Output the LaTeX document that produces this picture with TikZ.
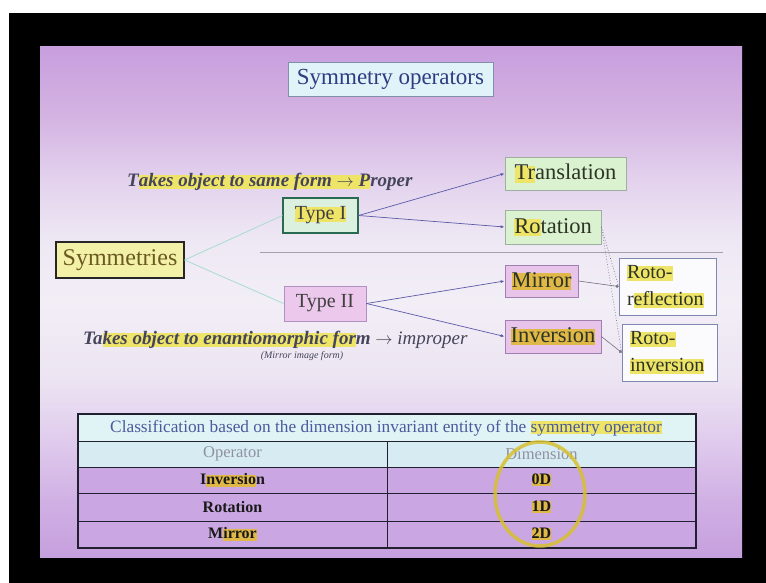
\documentclass[tikz,border=0pt]{standalone}
\usepackage{fontspec}
\setmainfont{Liberation Serif}
\usetikzlibrary{arrows.meta,shapes.geometric}
\definecolor{bgA}{HTML}{C6A0DE}
\definecolor{bgB}{HTML}{D0B0E4}
\definecolor{bgC}{HTML}{E2D0EE}
\definecolor{bgD}{HTML}{ECE4F2}
\definecolor{bgE}{HTML}{F2EEF6}
\definecolor{bgF}{HTML}{EEE8F4}
\definecolor{bgG}{HTML}{E4D4EE}
\definecolor{bgH}{HTML}{D4B4E2}
\definecolor{bgI}{HTML}{C89EDE}
\definecolor{titlefill}{HTML}{DFF3F8}
\definecolor{titledraw}{HTML}{8090A8}
\definecolor{titletext}{HTML}{2E3C80}
\definecolor{symfill}{HTML}{F3F0A8}
\definecolor{symtext}{HTML}{6A5A20}
\definecolor{tonefill}{HTML}{DCF0E0}
\definecolor{tonedraw}{HTML}{2A6A50}
\definecolor{ttwofill}{HTML}{ECC8EC}
\definecolor{ttwodraw}{HTML}{B090C0}
\definecolor{greenfill}{HTML}{DAF2D0}
\definecolor{greendraw}{HTML}{A0B0A0}
\definecolor{pinkfill}{HTML}{E8C4EA}
\definecolor{pinkdraw}{HTML}{A080B0}
\definecolor{rotofill}{HTML}{FBFAFC}
\definecolor{rotodraw}{HTML}{8088B0}
\definecolor{boxtext}{HTML}{2E3424}
\definecolor{italtext}{HTML}{44445A}
\definecolor{opline}{HTML}{5A5AA8}
\definecolor{symline}{HTML}{A8DCD0}
\definecolor{greyline}{HTML}{707080}
\definecolor{hl}{HTML}{EEE468}
\definecolor{hlo}{HTML}{E0B848}
\definecolor{hlring}{HTML}{D8C030}
\definecolor{tabhead}{HTML}{E0F4F6}
\definecolor{tabsub}{HTML}{D6ECF2}
\definecolor{tabrow}{HTML}{CAA6E2}
\definecolor{tabline}{HTML}{202030}
\definecolor{tabheadtext}{HTML}{4A5A9C}
\definecolor{tabsubtext}{HTML}{9090A0}
\pgfdeclareverticalshading{slidebg}{100bp}{color(0bp)=(bgA); color(25bp)=(bgA); color(30.5bp)=(bgB); color(37.5bp)=(bgC); color(42.5bp)=(bgD); color(50bp)=(bgE); color(56bp)=(bgF); color(61.5bp)=(bgG); color(68bp)=(bgH); color(75bp)=(bgI); color(100bp)=(bgI)}
\newsavebox\hlbox
\newcommand\hlt[2][hl]{\leavevmode\sbox\hlbox{#2}\rlap{\color{#1}\rule[-0.12em]{\wd\hlbox}{0.74em}}\usebox\hlbox}
\begin{document}
\begin{tikzpicture}[x=1pt,y=-1pt,
  box/.style={draw, inner sep=0pt, align=center, line width=0.8pt},
  greenbox/.style={box, fill=greenfill, draw=greendraw, text=boxtext, font=\fontsize{22.5}{26}\selectfont},
  pinkbox/.style={box, fill=pinkfill, draw=pinkdraw, text=boxtext, font=\fontsize{22.5}{26}\selectfont},
  rotobox/.style={box, fill=rotofill, draw=rotodraw, text=boxtext, align=left, inner xsep=8pt, text width=81pt, minimum height=57, font=\fontsize{20}{27}\selectfont},
  ital/.style={inner sep=0pt, text=italtext, font=\fontsize{19}{22}\selectfont\itshape},
  oparrow/.style={draw=opline, line width=0.7pt, -{Latex[length=4pt,width=3pt]}},
  symconn/.style={draw=symline, line width=0.8pt},
  rotoarrow/.style={draw=greyline, line width=0.6pt, -{Circle[length=3pt]}},
  rotodot/.style={draw=greyline, line width=0.7pt, dotted},
  tabtext/.style={inner sep=0pt},
  datatext/.style={tabtext, text=black!90, font=\fontsize{16}{18}\selectfont\bfseries},
  subtext/.style={tabtext, text=tabsubtext, font=\fontsize{16.5}{18}\selectfont},
]
\useasboundingbox (0,0) rectangle (766,583);
\fill[white] (0,0) rectangle (766,583);
\fill[black] (9,13) rectangle (766,583);
\shade[shading=slidebg] (40,47) rectangle (742,557);

% title
\node[box, fill=titlefill, draw=titledraw, text=titletext, minimum width=205, minimum height=34, font=\fontsize{23}{26}\selectfont] (title) at (390.5,79) {Symmetry operators};

% divider line
\coordinate (divL) at (260,252);
\coordinate (divR) at (723,252);
\draw[draw=black!30!bgD, line width=0.6pt] (divL) -- (divR);

% main nodes
\node[box, fill=symfill, draw=black!85, line width=1.2pt, text=symtext, minimum width=128, minimum height=36, font=\fontsize{24}{26}\selectfont] (sym) at (120,260) {Symmetries};
\node[box, fill=tonefill, draw=tonedraw, line width=1.2pt, text=black!75, minimum width=75, minimum height=35, font=\fontsize{20}{24}\selectfont] (t1) at (320.5,215.5) {\hlt{Type I}};
\node[box, fill=ttwofill, draw=ttwodraw, text=black!75, minimum width=82, minimum height=35, font=\fontsize{20}{24}\selectfont] (t2) at (325,303.5) {Type II};

\node[greenbox, minimum width=121, minimum height=33] (trans) at (565.5,173.5) {\hlt{Tr}anslation};
\node[greenbox, minimum width=96, minimum height=34] (rot) at (553,227) {\hlt{Ro}tation};
\node[pinkbox, minimum width=73, minimum height=32] (mir) at (541.5,281) {\hlt[hlo]{Mirror}};
\node[pinkbox, minimum width=96, minimum height=33] (inv) at (553,336.5) {\hlt[hlo]{Inversion}};
\node[rotobox, minimum width=97] (rr) at (667.5,286.5) {\hlt{Roto-}\\r\hlt{eflection}};
\node[rotobox, text width=79pt, minimum width=95] (ri) at (669.5,352.5) {\hlt{Roto-}\\ \hlt{inversion}};

% italic descriptions
\node[ital, anchor=west] (proper) at (127,182) {\bfseries T\hlt{akes object to same form $\rightarrow$ P}roper};
\node[ital, anchor=west] (improper) at (83,340) {{\bfseries Ta\hlt{kes object to enantiomorphic for}m} $\rightarrow$ improper};
\node[ital, font=\fontsize{10}{12}\selectfont\itshape] (mif) at (302,356) {(Mirror image form)};

% connectors
\draw[symconn] (sym.east) -- (t1.west);
\draw[symconn] (sym.east) -- (t2.west);
\draw[oparrow] (t1.east) -- (trans.west);
\draw[oparrow] (t1.east) -- (rot.west);
\draw[oparrow] (t2.east) -- (mir.west);
\draw[oparrow] (t2.east) -- (inv.west);
\draw[rotodot] (rot.east) -- (rr.west);
\draw[rotodot] (rot.east) -- (ri.west);
\draw[rotoarrow] (mir.east) -- (rr.west);
\draw[rotoarrow] (inv.east) -- (ri.west);

% table
\fill[tabhead] (78,414) rectangle (696,441);
\fill[tabsub] (78,441) rectangle (696,467);
\fill[tabrow] (78,467) rectangle (696,548);
\draw[tabline, line width=0.9pt] (78,441) -- (696,441);
\draw[tabline, line width=0.9pt] (78,467) -- (696,467);
\draw[tabline, line width=0.9pt] (78,493) -- (696,493);
\draw[tabline, line width=0.9pt] (78,521) -- (696,521);
\draw[tabline, line width=0.9pt] (387,441) -- (387,548);
\draw[tabline, line width=1.3pt] (78,414) rectangle (696,548);

\node[tabtext, text=tabheadtext, font=\fontsize{17.3}{19}\selectfont] (thead) at (386,428) {Classification based on the dimension invariant entity of the \hlt{symmetry operator}};
\node[subtext] (hop) at (232.5,454) {Operator};
\node[subtext] (hdim) at (541.5,454) {Dimension};
\node[datatext] (rinv) at (232.5,480) {I\hlt[hlo]{nversio}n};
\node[datatext] (rrot) at (232.5,507) {Rotation};
\node[datatext] (rmir) at (232.5,534) {M\hlt[hlo]{irror}};
\node[datatext] (d0) at (541.5,480) {\hlt[hlo]{0D}};
\node[datatext] (d1) at (541.5,507) {\hlt[hlo]{1D}};
\node[datatext] (d2) at (541.5,534) {\hlt[hlo]{2D}};
\node[ellipse, draw=hlring, line width=3.5pt, draw opacity=0.85, minimum width=90, minimum height=104, inner sep=0pt] (ring) at (540,494) {};
\end{tikzpicture}
\end{document}
